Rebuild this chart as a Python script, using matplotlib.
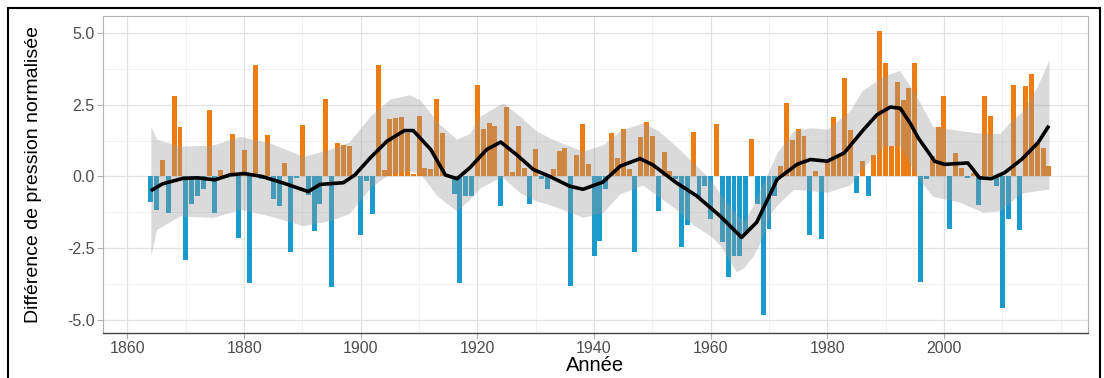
import matplotlib.pyplot as plt
from matplotlib.patches import Rectangle

# =====================================================================
# DATA
# =====================================================================
years = list(range(1864, 2019))

# normalised pressure difference, one value per winter, 1864 -> 2018
nao = [
    -0.91, -1.17, 0.57, -1.28, 2.81, 1.72, -2.93, -0.95, -0.69, -0.45,   # 1864-1873
    2.33, -1.28, 0.24, -0.05, 1.48, -2.15, 0.91, -3.73, 3.89, -0.10,     # 1874-1883
    1.46, -0.80, -1.03, 0.47, -2.65, -0.05, 1.81, -0.65, -1.92, -0.98,   # 1884-1893
    2.70, -3.87, 1.15, 1.11, 1.05, 0.05, -2.05, -0.15, -1.32, 3.89,      # 1894-1903
    0.22, 2.00, 2.05, 2.08, 1.50, 0.10, 2.12, 0.30, 0.27, 2.70,          # 1904-1913
    1.52, 0.05, -0.63, -3.73, -0.70, -0.68, 3.19, 1.65, 1.86, 1.75,      # 1914-1923
    -1.04, 2.43, 0.15, 1.75, 0.30, -0.95, 0.94, -0.08, -0.45, 0.27,      # 1924-1933
    0.88, 1.00, -3.82, 0.76, 1.82, 0.42, -2.78, -2.25, -0.45, 1.50,      # 1934-1943
    0.63, 1.66, 0.26, -2.63, 1.39, 1.90, 1.42, -1.20, 0.86, 0.19,        # 1944-1953
    -0.10, -2.46, -1.68, 1.56, -0.75, -0.35, -1.47, 1.82, -2.30, -3.50,  # 1954-1963
    -2.77, -2.77, -2.00, 1.30, -0.97, -4.85, -1.84, -0.70, 0.36, 2.55,   # 1964-1973
    1.28, 1.67, 1.40, -2.05, 0.20, -2.19, 0.50, 2.07, 0.70, 3.43,        # 1974-1983
    1.63, -0.57, 0.53, -0.68, 0.76, 5.07, 3.97, 1.05, 3.31, 2.67,        # 1984-1993
    3.08, 3.97, -3.69, -0.10, 0.70, 1.72, 2.81, -1.82, 0.80, 0.30,       # 1994-2003
    -0.07, 0.12, -1.00, 2.81, 2.12, -0.34, -4.58, -1.49, 3.19, -1.86,    # 2004-2013
    3.14, 3.58, 1.20, 1.00, 0.35,                                        # 2014-2018
]

# smoothed curve (black line)
smooth_years = [1864, 1866, 1869.5, 1872, 1875, 1877.5, 1880, 1883, 1887, 1891,
                1893, 1897, 1899, 1901.5, 1904.5, 1907.5, 1909, 1912, 1914.5, 1916.5,
                1918.7, 1921.6, 1924, 1926.7, 1929.6, 1932.4, 1935.8, 1938.1, 1941.5, 1944.5,
                1947.9, 1950.1, 1954.1, 1957.6, 1961.6, 1965.3, 1967.9, 1971.4, 1974.8, 1977.1,
                1980, 1982.9, 1986.2, 1988.5, 1990.8, 1992.5, 1994.2, 1995.6, 1998.4, 2000.1,
                2004.1, 2006.1, 2008.1, 2010.4, 2013.3, 2016.1, 2018]
smooth_fit = [-0.50, -0.26, -0.07, -0.05, -0.12, 0.05, 0.10, 0.00, -0.25, -0.53,
              -0.28, -0.22, 0.05, 0.62, 1.23, 1.60, 1.60, 0.94, 0.05, -0.08,
              0.30, 0.94, 1.20, 0.76, 0.24, 0.00, -0.34, -0.45, -0.20, 0.36,
              0.62, 0.40, -0.22, -0.68, -1.38, -2.13, -1.60, -0.10, 0.42, 0.59,
              0.53, 0.82, 1.63, 2.15, 2.42, 2.38, 1.86, 1.34, 0.53, 0.42,
              0.47, -0.05, -0.08, 0.13, 0.59, 1.17, 1.77]

# confidence band around the smooth (grey ribbon)
band_years = [1864, 1865, 1869, 1874.7, 1879.3, 1884.4, 1890.1, 1894.6, 1898, 1901.6,
              1905, 1908.3, 1910.2, 1913.1, 1916.4, 1918.7, 1920.4, 1923.3, 1924.4, 1927.3,
              1930, 1933, 1938.1, 1941.5, 1944.5, 1948.4, 1951, 1954.1, 1957, 1959.9,
              1961.6, 1964.4, 1965.6, 1967.3, 1968.5, 1970.2, 1971.4, 1974.2, 1977, 1980,
              1983.9, 1986, 1989.6, 1992.4, 1995.3, 1998.1, 2002.7, 2006.7, 2009.6, 2011.3,
              2013.6, 2015.9, 2018]
band_hi = [1.75, 1.30, 1.05, 1.10, 1.40, 1.17, 0.70, 0.94, 1.20, 2.10,
           2.70, 2.85, 2.67, 1.90, 1.30, 1.50, 2.10, 2.45, 2.56, 2.10,
           1.60, 1.28, 0.88, 1.10, 1.60, 1.87, 1.60, 1.05, 0.48, -0.10,
           -0.60, -1.30, -1.60, -1.00, -0.45, 0.30, 0.83, 1.60, 1.70, 1.65,
           2.30, 3.00, 3.50, 3.70, 2.80, 1.74, 1.60, 1.50, 1.50, 1.90,
           2.30, 3.10, 4.06]
band_lo = [-2.75, -1.85, -1.38, -1.43, -1.15, -1.38, -1.72, -1.55, -1.30, -0.40,
           0.10, 0.20, 0.10, -0.68, -1.20, -0.80, -0.40, -0.10, -0.05, -0.57,
           -0.85, -1.03, -1.43, -1.26, -0.60, -0.30, -0.70, -1.15, -1.70, -2.07,
           -2.40, -3.33, -3.20, -2.77, -2.30, -1.30, -1.00, -0.45, -0.50, -0.55,
           -0.30, 0.30, 1.04, 1.10, 0.00, -0.70, -0.90, -1.25, -1.20, -0.90,
           -0.57, -0.50, -0.45]

x_major = [1860, 1880, 1900, 1920, 1940, 1960, 1980, 2000]
x_minor = [1870, 1890, 1910, 1930, 1950, 1970, 1990, 2010, 2020]
y_major = [-5.0, -2.5, 0.0, 2.5, 5.0]
y_minor = [-3.75, -1.25, 1.25, 3.75]

ORANGE = '#EC7C14'
BLUE = '#1A9BCB'

# =====================================================================
# FIGURE
# =====================================================================
plt.rcParams['font.family'] = ['Liberation Sans', 'DejaVu Sans']

fig = plt.figure(figsize=(11.04, 3.78), dpi=100)
ax = fig.add_axes([103 / 1104, 45.5 / 378, 985 / 1104, 316.5 / 378])

colors = [ORANGE if v >= 0 else BLUE for v in nao]
ax.bar(years, nao, width=0.85, color=colors, linewidth=0, zorder=2)
ax.fill_between(band_years, band_lo, band_hi, color='#999999', alpha=0.36,
                linewidth=0, zorder=3)
ax.plot(smooth_years, smooth_fit, color='black', lw=2.6, zorder=4,
        solid_capstyle='butt', solid_joinstyle='round')

ax.set_xlim(1855.8, 2024.7)
ax.set_ylim(-5.45, 5.6)

ax.set_xticks(x_major)
ax.set_xticks(x_minor, minor=True)
ax.set_yticks(y_major)
ax.set_yticks(y_minor, minor=True)
ax.set_yticklabels([f'{v:.1f}' for v in y_major])

ax.grid(True, which='major', color='#E2E2E2', lw=0.9, zorder=0)
ax.grid(True, which='minor', color='#EFEFEF', lw=0.6, zorder=0)
ax.set_axisbelow(True)

ax.tick_params(which='major', length=4, width=0.8, color='#B3B3B3',
               labelsize=11.5, labelcolor='#4D4D4D', pad=2)
ax.tick_params(which='minor', length=0)

for side in ['top', 'left', 'right']:
    ax.spines[side].set_color('#B3B3B3')
    ax.spines[side].set_linewidth(0.8)
ax.spines['bottom'].set_color('#444444')
ax.spines['bottom'].set_linewidth(1.0)

ax.set_xlabel('Année', fontsize=14.5, labelpad=0)
ax.set_ylabel('Différence de pression normalisée', fontsize=14)
ax.yaxis.set_label_coords(-0.062, 0.5)

# black frame of the screenshot
fig.add_artist(Rectangle((8 / 1104, -0.05), 1092 / 1104, (370 / 378) + 0.05,
                         transform=fig.transFigure, fill=False,
                         edgecolor='black', lw=1.5, clip_on=False))

plt.savefig('out.png', dpi=100)
